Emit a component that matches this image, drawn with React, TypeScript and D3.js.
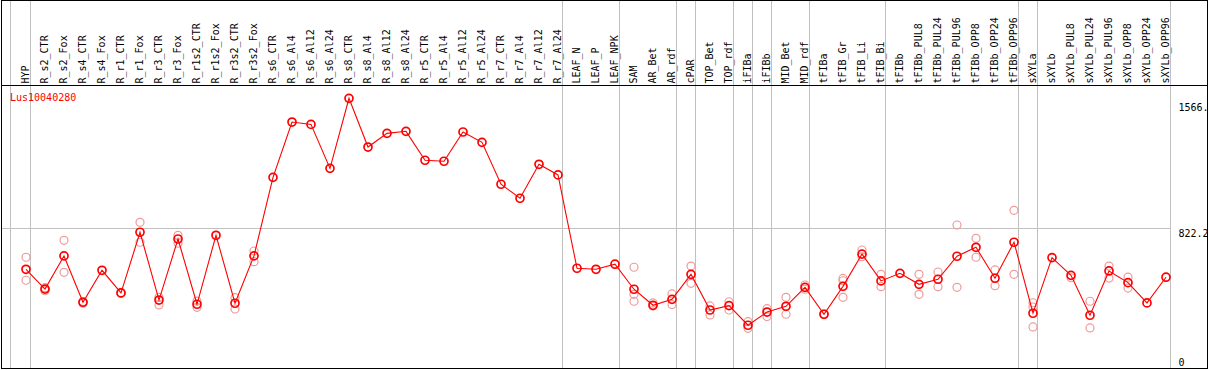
import React from "react";
import * as d3 from "d3";

const title = "Lus10040280";

const categories = [
  "HYP", "R_s2_CTR", "R_s2_Fox", "R_s4_CTR", "R_s4_Fox", "R_r1_CTR", "R_r1_Fox", "R_r3_CTR", "R_r3_Fox",
  "R_r1s2_CTR", "R_r1s2_Fox", "R_r3s2_CTR", "R_r3s2_Fox", "R_s6_CTR", "R_s6_Al4", "R_s6_Al12", "R_s6_Al24",
  "R_s8_CTR", "R_s8_Al4", "R_s8_Al12", "R_s8_Al24", "R_r5_CTR", "R_r5_Al4", "R_r5_Al12", "R_r5_Al24",
  "R_r7_CTR", "R_r7_Al4", "R_r7_Al12", "R_r7_Al24", "LEAF_N", "LEAF_P", "LEAF_NPK", "SAM", "AR_Bet", "AR_rdf",
  "cPAR", "TOP_Bet", "TOP_rdf", "iFIBa", "iFIBb", "MID_Bet", "MID_rdf", "tFIBa", "tFIB_Gr", "tFIB_Li", "tFIB_Bi",
  "tFIBb", "tFIBb_PUL8", "tFIBb_PUL24", "tFIBb_PUL96", "tFIBb_OPP8", "tFIBb_OPP24", "tFIBb_OPP96", "sXYLa",
  "sXYLb", "sXYLb_PUL8", "sXYLb_PUL24", "sXYLb_PUL96", "sXYLb_OPP8", "sXYLb_OPP24", "sXYLb_OPP96",
];

const means = [
  581, 464, 660, 386, 575, 441, 800, 399, 760, 374, 782, 380, 660,
  1125, 1452, 1438, 1178, 1592, 1304, 1385, 1397, 1226, 1220, 1393, 1332,
  1084, 1001, 1202, 1139, 587, 581, 611, 463, 368, 403, 551, 340, 366,
  250, 328, 362, 474, 315, 480, 671, 512, 557, 492, 522, 658, 711, 528, 741,
  321, 650, 545, 309, 571, 502, 382, 534,
];

const replicates: number[][] = [
  [652, 516], [454, 472], [752, 563], [380, 390], [], [438, 444], [859, 741], [415, 370], [782, 735],
  [393, 356], [], [413, 346], [689, 626], [], [], [], [],
  [], [], [], [], [], [], [], [],
  [], [], [], [], [], [], [], [593, 433, 392], [382, 364], [435, 372],
  [600, 498], [364, 311], [389, 340], [271, 232], [348, 301], [415, 315], [488, 463], [318, 312], [527, 513, 415], [695, 655], [551, 478],
  [], [551, 433], [565, 478], [843, 474], [764, 652], [577, 484], [930, 551], [383, 358, 240],
  [], [531], [392, 234], [600, 529], [534, 470], [], [],
];

// indices of the last column in each group (a grey separator follows it)
const groupEnds = [0, 28, 31, 34, 35, 37, 38, 39, 41, 45, 52, 53, 60];

const yTickValues = [0, 822.2, 1566];
const yTickLabels = ["0", "822.2", "1566."];
const gridValues = [822.2];

const W = 1209;
const H = 370;
const FONT = "'DejaVu Sans Mono', 'Liberation Mono', monospace";

export default function App() {
  const x = d3
    .scalePoint<string>()
    .domain(categories)
    .range([26, 1166]);
  const y = d3.scaleLinear().domain([0, 822.2]).range([367.5, 228.5]);

  const line = d3
    .line<number>()
    .x((_, i) => x(categories[i]) as number)
    .y((d) => y(d));

  const sepXs = [10.5, ...groupEnds.map((i) => (x(categories[i]) as number) + 4.5)];
  const plotRight = (x(categories[categories.length - 1]) as number) + 4.5;

  return (
    <div style={{ position: "absolute", left: 0, top: 0 }}>
      <svg width={W} height={H} style={{ display: "block", background: "#fff" }}>
        <defs>
          <clipPath id="frameClip">
            <rect x={1.5} y={0.5} width={1205.5} height={368} />
          </clipPath>
        </defs>
        <rect x={0} y={0} width={W} height={H} fill="#fff" />
        {sepXs.map((sx, i) => (
          <line key={"s" + i} x1={sx} x2={sx} y1={0} y2={369} stroke="#c0c0c0" strokeWidth={1} />
        ))}
        {gridValues.map((g, i) => (
          <line
            key={"g" + i}
            x1={1}
            x2={plotRight}
            y1={Math.round(y(g)) - 0.5}
            y2={Math.round(y(g)) - 0.5}
            stroke="#c0c0c0"
            strokeWidth={1}
          />
        ))}
        <line x1={1} x2={1208} y1={85.5} y2={85.5} stroke="#000" strokeWidth={1} />
        {categories.map((c) => {
          const cx = (x(c) as number) + 2.5;
          return (
            <text
              key={c}
              transform={`translate(${cx},83.5) rotate(-90)`}
              fontFamily={FONT}
              fontSize={10}
              fill="#000"
            >
              {c}
            </text>
          );
        })}
        <text x={10} y={100.5} fontFamily={FONT} fontSize={10} fill="#ff0000">
          {title}
        </text>
        {replicates.map((reps, i) =>
          reps.map((v, j) => (
            <circle
              key={`r${i}-${j}`}
              cx={x(categories[i]) as number}
              cy={y(v)}
              r={4}
              fill="none"
              stroke="#f09a9a"
              strokeWidth={1.2}
            />
          ))
        )}
        <path d={line(means) || ""} fill="none" stroke="#ff0000" strokeWidth={1.1} />
        {means.map((v, i) => (
          <circle
            key={"m" + i}
            cx={x(categories[i]) as number}
            cy={y(v)}
            r={4}
            fill="none"
            stroke="#ff0000"
            strokeWidth={1.7}
          />
        ))}
        <g clipPath="url(#frameClip)">
          {yTickValues.map((v, i) => (
            <text
              key={"y" + i}
              x={1178.5}
              y={Math.min(y(v) + 8, 366)}
              fontFamily={FONT}
              fontSize={10}
              fill="#000"
            >
              {yTickLabels[i]}
            </text>
          ))}
        </g>
        <rect x={1.5} y={0.5} width={1206} height={368} fill="none" stroke="#000" strokeWidth={1} />
      </svg>
    </div>
  );
}
